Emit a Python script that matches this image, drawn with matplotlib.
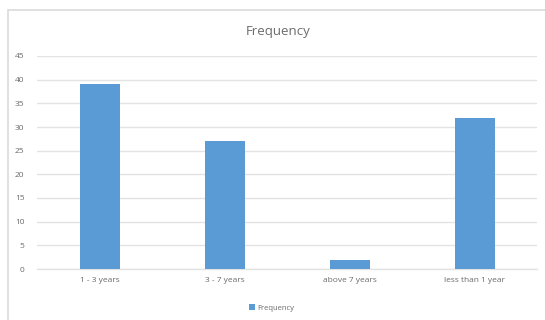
import numpy as np
from matplotlib import pyplot as plt
from matplotlib.patches import Rectangle

categories = ["1 - 3 years", "3 - 7 years", "above 7 years", "less than 1 year"]
frequency = [39, 27, 2, 32]
y_ticks = [0, 5, 10, 15, 20, 25, 30, 35, 40, 45]

BAR_COLOR = "#5b9bd5"
TEXT_COLOR = "#6b6b6b"
GRID_COLOR = "#e3e3e3"

plt.rcParams['font.family'] = ['Open Sans', 'DejaVu Sans']

fig = plt.figure(figsize=(5.45, 3.2), dpi=100)

# Рамка области диаграммы
fig.add_artist(Rectangle((8 / 545, -0.1), 1.0, 1 - 10 / 320 + 0.1, transform=fig.transFigure,
                         facecolor="white", edgecolor="#dadada", linewidth=1.2, zorder=-1))

ax = fig.add_axes([37 / 545, 51 / 320, 500 / 545, 213 / 320])
ax.set_zorder(1)
ax.set_facecolor("none")

x = np.arange(len(categories))
ax.bar(x, frequency, width=0.32, color=BAR_COLOR, label="Frequency", zorder=3)

ax.set_xlim(-0.5, len(categories) - 0.5)
ax.set_ylim(0, 45)
ax.set_yticks(y_ticks)
ax.set_xticks(x)
ax.set_xticklabels(categories)
ax.tick_params(axis='both', length=0, labelsize=6, labelcolor=TEXT_COLOR)
ax.tick_params(axis='y', pad=9)
ax.tick_params(axis='x', pad=6)
ax.grid(axis='y', color=GRID_COLOR, linewidth=1, zorder=0)
for side in ['top', 'right', 'left']:
    ax.spines[side].set_visible(False)
ax.spines['bottom'].set_color(GRID_COLOR)
ax.spines['bottom'].set_linewidth(1)

fig.text(278 / 545, 1 - 31 / 320, "Frequency", ha='center', va='center', fontsize=9.5, color=TEXT_COLOR)

fig.legend(loc='center', bbox_to_anchor=(272 / 545, 1 - 308 / 320), frameon=False, fontsize=5.5,
           labelcolor=TEXT_COLOR, handlelength=0.7, handleheight=0.7, handletextpad=0.4)

plt.savefig("out.png", dpi=100)
plt.close()
